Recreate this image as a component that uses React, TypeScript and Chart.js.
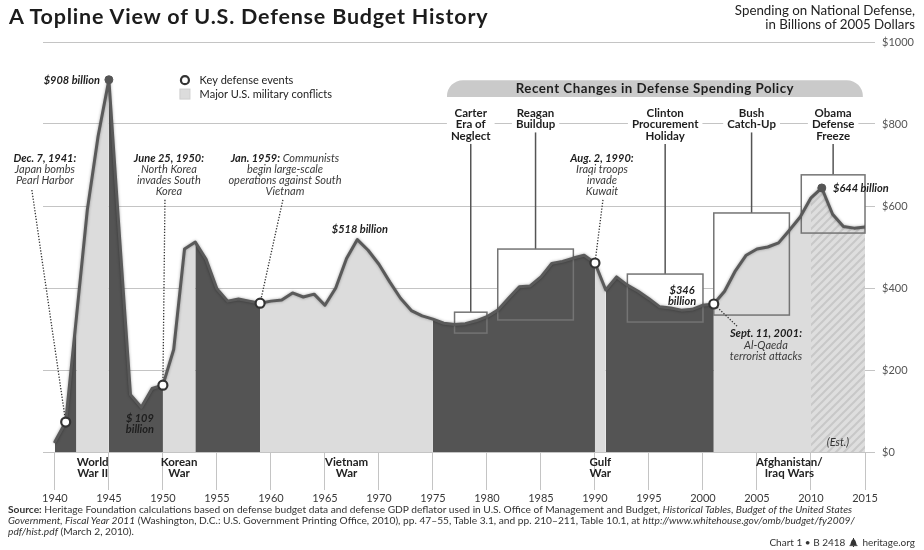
import React, { useEffect, useRef } from "react";
import { Chart, registerables } from "chart.js";

Chart.register(...registerables);

// ---------------- DATA ----------------
const years = [
  1940, 1941, 1942, 1943, 1944, 1945, 1946, 1947, 1948, 1949,
  1950, 1951, 1952, 1953, 1954, 1955, 1956, 1957, 1958, 1959,
  1960, 1961, 1962, 1963, 1964, 1965, 1966, 1967, 1968, 1969,
  1970, 1971, 1972, 1973, 1974, 1975, 1976, 1977, 1978, 1979,
  1980, 1981, 1982, 1983, 1984, 1985, 1986, 1987, 1988, 1989,
  1990, 1991, 1992, 1993, 1994, 1995, 1996, 1997, 1998, 1999,
  2000, 2001, 2002, 2003, 2004, 2005, 2006, 2007, 2008, 2009,
  2010, 2011, 2012, 2013, 2014, 2015,
];
// Spending on national defense, billions of 2005 dollars
const spending = [
  25, 73, 330, 590, 770, 908, 520, 140, 109, 155,
  163, 250, 495, 512, 470, 398, 368, 373, 368, 363,
  368, 371, 388, 378, 385, 358, 400, 472, 518, 492,
  458, 415, 375, 345, 332, 324, 314, 311, 313, 320,
  330, 346, 375, 403, 405, 427, 460, 465, 473, 480,
  461, 395, 427, 407, 392, 374, 354, 351, 346, 348,
  358, 361, 392, 442, 480, 495, 500, 510, 541, 573,
  620, 644, 580, 550, 546, 549,
];

const xTickYears = [1940, 1945, 1950, 1955, 1960, 1965, 1970, 1975, 1980, 1985, 1990, 1995, 2000, 2005, 2010, 2015];
const yTickValues = [0, 200, 400, 600, 800, 1000];

const conflictNames = [["World", "War II"], ["Korean", "War"], ["Vietnam", "War"], ["Gulf", "War"], ["Afghanistan/", "Iraq Wars"]];
const conflictStart = [1942, 1950, 1959, 1990, 2001];
const conflictEnd = [1945, 1953, 1975, 1991, 2015];
const estimateStart = 2010;

const eventYears = [1941, 1950, 1959, 1990, 2001];
const eventTitles = ["Dec. 7, 1941:", "June 25, 1950:", "Jan. 1959:", "Aug. 2, 1990:", "Sept. 11, 2001:"];
const eventTitleTails = ["", "", " Communists", "", ""];
const eventBodies = [
  ["Japan bombs", "Pearl Harbor"],
  ["North Korea", "invades South", "Korea"],
  ["begin large-scale", "operations against South", "Vietnam"],
  ["Iraqi troops", "invade", "Kuwait"],
  ["Al-Qaeda", "terrorist attacks"],
];

const peakYears = [1945, 2011];

const policyNames = [["Carter", "Era of", "Neglect"], ["Reagan", "Buildup"], ["Clinton", "Procurement", "Holiday"], ["Bush", "Catch-Up"], ["Obama", "Defense", "Freeze"]];
const policyStart = [1977, 1981, 1993, 2001, 2009.1];
const policyEnd = [1980, 1988, 2000, 2008, 2015];
const policyBoxTop = [341, 495, 434, 583, 676];
const policyBoxBottom = [290, 322, 317, 334, 534];

// ---------------- LAYOUT (data-space anchors) ----------------
const eventLabelAt = [
  [1939.07, 717], [1950.56, 717], [1961.3, 717], [1990.65, 717], [2005.83, 288],
];
const eventLeaderFrom = [
  [1937.87, 639], [1950.19, 615], [1961.11, 615], [1990.74, 615], [2003.15, 307],
];

const FF = 'Lato, "Open Sans", "DejaVu Sans", sans-serif';
const DARK = "#545454";
const LIGHT = "#dcdcdc";

function valueAt(yr: number): number {
  return spending[years.indexOf(yr)];
}

function makeHatch(): any {
  const c = document.createElement("canvas");
  c.width = 8;
  c.height = 8;
  const g = c.getContext("2d");
  if (!g) return LIGHT;
  g.fillStyle = "#dedede";
  g.fillRect(0, 0, 8, 8);
  g.strokeStyle = "#c8c8c8";
  g.lineWidth = 2;
  g.beginPath();
  g.moveTo(-2, 10); g.lineTo(10, -2);
  g.moveTo(-6, 6); g.lineTo(6, -6);
  g.moveTo(2, 14); g.lineTo(14, 2);
  g.stroke();
  return g.createPattern(c, "repeat") || LIGHT;
}

function buildBands() {
  const bands: { from: number; to: number; kind: string }[] = [];
  let cursor = years[0];
  conflictStart.forEach((s, i) => {
    const e = conflictEnd[i];
    if (s > cursor) bands.push({ from: cursor, to: s, kind: "dark" });
    if (estimateStart > s && estimateStart < e) {
      bands.push({ from: s, to: estimateStart, kind: "light" });
      bands.push({ from: estimateStart, to: e, kind: "hatch" });
    } else {
      bands.push({ from: s, to: e, kind: "light" });
    }
    cursor = e;
  });
  return bands;
}

export default function App() {
  const ref = useRef<HTMLCanvasElement | null>(null);

  useEffect(() => {
    if (!ref.current) return;
    const hatch = makeHatch();
    const points = years.map((yr, i) => ({ x: yr, y: spending[i] }));
    const bands = buildBands();

    const bandSets = bands.map((b) => ({
      type: "line",
      data: points.filter((p) => p.x >= b.from && p.x <= b.to),
      borderWidth: 0,
      pointRadius: 0,
      fill: "origin",
      backgroundColor: b.kind === "dark" ? DARK : b.kind === "light" ? LIGHT : hatch,
      order: 5,
    }));
    const lineIndex = bandSets.length;

    const datasets: any[] = [
      ...bandSets,
      {
        type: "line",
        data: points,
        borderColor: "#5a5a5a",
        borderWidth: 3,
        borderJoinStyle: "round",
        borderCapStyle: "round",
        pointRadius: 0,
        fill: false,
        tension: 0,
        order: 2,
      },
      {
        type: "line",
        data: peakYears.map((yr) => ({ x: yr, y: valueAt(yr) })),
        showLine: false,
        pointRadius: 4,
        pointBackgroundColor: "#555",
        pointBorderColor: "#555",
        pointBorderWidth: 1,
        order: 1,
      },
      {
        type: "line",
        data: eventYears.map((yr) => ({ x: yr, y: valueAt(yr) })),
        showLine: false,
        pointRadius: 4.5,
        pointBackgroundColor: "#ffffff",
        pointBorderColor: "#333",
        pointBorderWidth: 2.2,
        order: 0,
      },
    ];

    const annot = {
      id: "annot",
      beforeDatasetsDraw(chart: any) {
        const { ctx, scales } = chart;
        const px = (v: number) => scales.x.getPixelForValue(v);
        const py = (v: number) => scales.y.getPixelForValue(v);
        ctx.save();
        // white policy boxes (hide gridlines)
        ctx.fillStyle = "#ffffff";
        policyStart.forEach((s, i) => {
          const l = px(s), r = px(policyEnd[i]);
          const t = py(policyBoxTop[i]), b = py(policyBoxBottom[i]);
          ctx.fillRect(l, t, r - l, b - t);
        });
        // banner
        const bl = px(1976.3), br = px(2014.8), bt = py(907), bb = py(866);
        ctx.fillStyle = "#cacaca";
        ctx.beginPath();
        (ctx as any).roundRect(bl, bt, br - bl, bb - bt, [16, 16, 0, 0]);
        ctx.fill();
        ctx.fillStyle = "#1e1e1e";
        ctx.font = `bold 13.3px ${FF}`;
        (ctx as any).letterSpacing = "0.5px";
        ctx.textAlign = "center";
        ctx.textBaseline = "middle";
        ctx.fillText("Recent Changes in Defense Spending Policy", (bl + br) / 2, (bt + bb) / 2 + 0.5);
        (ctx as any).letterSpacing = "0px";

        // policy labels + connectors
        ctx.font = `bold 11.5px ${FF}`;
        policyNames.forEach((lines, i) => {
          const cx = px((policyStart[i] + policyEnd[i]) / 2);
          const y0 = py(827);
          const lh = 11.5;
          let w = 0;
          lines.forEach((t) => (w = Math.max(w, ctx.measureText(t).width)));
          ctx.fillStyle = "#ffffff";
          ctx.fillRect(cx - w / 2 - 4, y0 - 7, w + 8, lh * (lines.length - 1) + 14);
          ctx.fillStyle = "#1e1e1e";
          lines.forEach((t, k) => ctx.fillText(t, cx, y0 + k * lh));
          ctx.strokeStyle = "#555";
          ctx.lineWidth = 1.5;
          ctx.beginPath();
          ctx.moveTo(cx, y0 + (lines.length - 1) * lh + 8);
          ctx.lineTo(cx, py(policyBoxTop[i]));
          ctx.stroke();
        });

        // legend
        const lx = px(1952.04);
        ctx.beginPath();
        ctx.arc(lx, py(907), 4, 0, Math.PI * 2);
        ctx.fillStyle = "#fff";
        ctx.fill();
        ctx.strokeStyle = "#333";
        ctx.lineWidth = 2.2;
        ctx.stroke();
        ctx.fillStyle = LIGHT;
        ctx.fillRect(lx - 5, py(873) - 5, 10, 10);
        ctx.strokeStyle = "#cfcfcf";
        ctx.lineWidth = 1;
        ctx.strokeRect(lx - 5, py(873) - 5, 10, 10);
        ctx.fillStyle = "#222";
        ctx.font = `11px ${FF}`;
        ctx.textAlign = "left";
        ctx.fillText("Key defense events", px(1953.4), py(907));
        ctx.fillText("Major U.S. military conflicts", px(1953.4), py(873));
        ctx.restore();
      },
      beforeDatasetDraw(chart: any, args: any) {
        if (args.index !== lineIndex) return;
        const { ctx, scales } = chart;
        const px = (v: number) => scales.x.getPixelForValue(v);
        const py = (v: number) => scales.y.getPixelForValue(v);
        ctx.save();
        // box outlines
        ctx.strokeStyle = "#747474";
        ctx.lineWidth = 1.5;
        policyStart.forEach((s, i) => {
          const l = px(s), r = px(policyEnd[i]);
          const t = py(policyBoxTop[i]), b = py(policyBoxBottom[i]);
          ctx.strokeRect(l, t, r - l, b - t);
        });
        // dotted leaders
        ctx.strokeStyle = "#333";
        ctx.lineWidth = 1.3;
        ctx.setLineDash([1.3, 1.6]);
        eventYears.forEach((yr, i) => {
          ctx.beginPath();
          ctx.moveTo(px(eventLeaderFrom[i][0]), py(eventLeaderFrom[i][1]));
          ctx.lineTo(px(yr), py(valueAt(yr)));
          ctx.stroke();
        });
        ctx.restore();
        ctx.save();
        ctx.shadowColor = "rgba(0,0,0,0.35)";
        ctx.shadowBlur = 3;
      },
      afterDatasetDraw(chart: any, args: any) {
        if (args.index !== lineIndex) return;
        chart.ctx.restore();
      },
      afterDatasetsDraw(chart: any) {
        const { ctx, scales } = chart;
        const px = (v: number) => scales.x.getPixelForValue(v);
        const py = (v: number) => scales.y.getPixelForValue(v);
        ctx.save();
        ctx.textBaseline = "middle";
        const lh = 11.3;
        // events
        eventYears.forEach((_, i) => {
          const cx = px(eventLabelAt[i][0]);
          const y0 = py(eventLabelAt[i][1]);
          const fb = `italic bold 11px ${FF}`;
          const fi = `italic 11px ${FF}`;
          ctx.font = fb;
          const w1 = ctx.measureText(eventTitles[i]).width;
          ctx.font = fi;
          const w2 = eventTitleTails[i] ? ctx.measureText(eventTitleTails[i]).width : 0;
          const sx = cx - (w1 + w2) / 2;
          ctx.textAlign = "left";
          ctx.font = fb;
          ctx.fillStyle = "#1e1e1e";
          ctx.fillText(eventTitles[i], sx, y0);
          if (w2) {
            ctx.font = fi;
            ctx.fillStyle = "#3a3a3a";
            ctx.fillText(eventTitleTails[i], sx + w1, y0);
          }
          ctx.textAlign = "center";
          ctx.font = fi;
          ctx.fillStyle = "#3a3a3a";
          eventBodies[i].forEach((t, k) => ctx.fillText(t, cx, y0 + (k + 1) * lh));
        });
        // value labels
        ctx.fillStyle = "#1e1e1e";
        ctx.font = `italic bold 11px ${FF}`;
        ctx.textAlign = "right";
        ctx.fillText("$908 billion", px(1944.17), py(907));
        ctx.textAlign = "center";
        ctx.fillText("$518 billion", px(1968.24), py(544));
        ctx.textAlign = "left";
        ctx.fillText("$644 billion", px(2012.04), py(644));
        ctx.textAlign = "center";
        ctx.fillText("$346", px(1998.06), py(395));
        ctx.fillText("billion", px(1998.06), py(368));
        ctx.fillText("$ 109", px(1947.87), py(83));
        ctx.fillText("billion", px(1947.87), py(56));
        ctx.font = `italic 11px ${FF}`;
        ctx.fillStyle = "#333";
        ctx.fillText("(Est.)", px(2012.5), py(24));
        // conflict labels under axis
        ctx.font = `bold 11.5px ${FF}`;
        ctx.fillStyle = "#222";
        conflictNames.forEach((lines, i) => {
          const cx = px((conflictStart[i] + conflictEnd[i]) / 2);
          lines.forEach((t, k) => ctx.fillText(t, cx, py(0) + 10 + k * 11));
        });
        ctx.restore();
      },
    };

    const chart = new Chart(ref.current, {
      type: "line",
      data: { datasets },
      options: {
        animation: false,
        responsive: false,
        events: [],
        layout: { padding: { left: 43, top: 42, right: 0, bottom: 0 } },
        plugins: { legend: { display: false }, tooltip: { enabled: false } },
        scales: {
          x: {
            type: "linear",
            position: "bottom",
            min: 1938.9,
            max: 2015,
            afterBuildTicks: (axis: any) => {
              axis.ticks = xTickYears.map((v) => ({ value: v }));
            },
            afterFit: (scale: any) => {
              scale.height = 98;
            },
            grid: { drawOnChartArea: false, drawTicks: true, tickLength: 38, color: "#c4c4c4", lineWidth: 1 },
            border: { display: false },
            ticks: {
              autoSkip: false,
              maxRotation: 0,
              padding: 2,
              color: "#3a3a3a",
              font: { family: FF, size: 11 },
              callback: (v: any) => String(v),
            },
          },
          y: {
            type: "linear",
            position: "right",
            min: 0,
            max: 1000,
            afterBuildTicks: (axis: any) => {
              axis.ticks = yTickValues.map((v) => ({ value: v }));
            },
            afterFit: (scale: any) => {
              scale.width = 59;
            },
            grid: { color: "#c4c4c4", lineWidth: 1, tickLength: 10 },
            border: { display: false },
            ticks: {
              padding: 7,
              color: "#555",
              font: { family: FF, size: 11 },
              callback: (v: any) => "$" + v,
            },
          },
        },
      } as any,
      plugins: [annot as any],
    } as any);
    return () => chart.destroy();
  }, []);

  const textBase: React.CSSProperties = { position: "absolute", fontFamily: FF, whiteSpace: "nowrap", color: "#222" };

  return (
    <div style={{ position: "absolute", left: 0, top: 0, width: 924, height: 550, background: "#fff", overflow: "hidden" }}>
      <canvas ref={ref} width={924} height={550} style={{ position: "absolute", left: 0, top: 0, width: 924, height: 550 }} />
      <div style={{ ...textBase, left: 9, top: 6, fontSize: 21.5, lineHeight: "21.5px", fontWeight: 700, letterSpacing: "0.8px", color: "#1c1c1c" }}>
        A Topline View of U.S. Defense Budget History
      </div>
      <div style={{ ...textBase, right: 9, top: 4, fontSize: 13.3, lineHeight: "13.5px", textAlign: "right", color: "#222" }}>
        <div>Spending on National Defense,</div>
        <div>in Billions of 2005 Dollars</div>
      </div>
      <div style={{ ...textBase, left: 8, top: 504, fontSize: 10.2, lineHeight: "11px", color: "#333" }}>
        <div>
          <b>Source:</b> Heritage Foundation calculations based on defense budget data and defense GDP deflator used in U.S. Office of Management and Budget, <i>Historical Tables, Budget of the United States</i>
        </div>
        <div>
          <i>Government, Fiscal Year 2011</i> (Washington, D.C.: U.S. Government Printing Office, 2010), pp. 47–55, Table 3.1, and pp. 210–211, Table 10.1, at <i>http://www.whitehouse.gov/omb/budget/fy2009/</i>
        </div>
        <div>
          <i>pdf/hist.pdf</i> (March 2, 2010).
        </div>
      </div>
      <div style={{ ...textBase, right: 9, top: 536, fontSize: 10, lineHeight: "12px", color: "#333", display: "flex", alignItems: "center", gap: 4 }}>
        <span>Chart 1 • B 2418</span>
        <svg width="9" height="10" viewBox="0 0 9 10">
          <path d="M1 8.2 C2 7.2 1.8 3 4 2.2 L4 1 L5 1 L5 2.2 C7.2 3 7 7.2 8 8.2 Z" fill="#333" />
          <rect x="0.5" y="8.2" width="8" height="0.9" fill="#333" />
          <circle cx="4.5" cy="9.4" r="0.6" fill="#333" />
        </svg>
        <span>heritage.org</span>
      </div>
    </div>
  );
}
